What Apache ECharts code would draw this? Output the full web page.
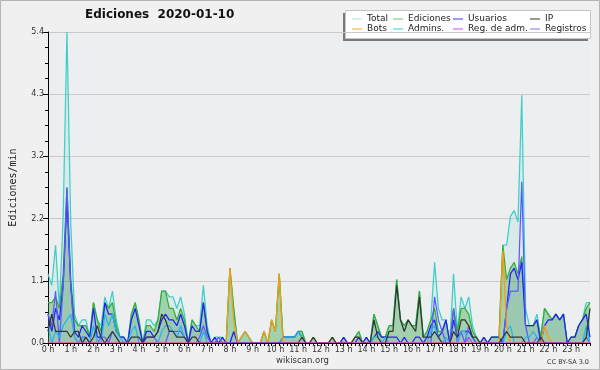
<!DOCTYPE html>
<html>
<head>
<meta charset="utf-8">
<script src="https://cdn.jsdelivr.net/npm/echarts@6/dist/echarts.min.js"></script>
<style>
  html, body { margin: 0; padding: 0; background: #f0f0f0; }
  #chart { width: 600px; height: 370px; }
</style>
</head>
<body>
<div id="chart"></div>
<script>
// Ediciones 2020-01-10 -- edits per minute, 10-minute slots (144 per day)

const hourLabels = ['0 h', '1 h', '2 h', '3 h', '4 h', '5 h', '6 h', '7 h', '8 h', '9 h', '10 h', '11 h',
  '12 h', '13 h', '14 h', '15 h', '16 h', '17 h', '18 h', '19 h', '20 h', '21 h', '22 h', '23 h'];
const slotMinutes = ['00', '10', '20', '30', '40', '50'];

// one line = two hours (12 slots)
const total = [
  1.2, 1.0, 1.7, 0.6, 2.2, 5.4, 2.1, 0.5, 0.3, 0.4, 0.4, 0.1,
  0.7, 0.4, 0.3, 0.8, 0.6, 0.9, 0.4, 0.1, 0.1, 0, 0.5, 0.7,
  0.4, 0, 0.4, 0.4, 0.3, 0.4, 0.9, 0.9, 0.8, 0.8, 0.6, 0.8,
  0.5, 0, 0.4, 0.3, 0.3, 1.0, 0.3, 0, 0.1, 0.1, 0.1, 0,
  1.3, 0.6, 0, 0.1, 0.2, 0.1, 0, 0, 0, 0.2, 0, 0.4,
  0.2, 1.2, 0.1, 0.1, 0.1, 0.1, 0.2, 0.2, 0, 0, 0.1, 0,
  0, 0, 0, 0.1, 0, 0, 0.1, 0, 0, 0.1, 0.2, 0,
  0.1, 0, 0.5, 0.3, 0.1, 0.1, 0.3, 0.3, 1.1, 0.4, 0.3, 0.4,
  0.3, 0.3, 0.9, 0.1, 0.2, 0.4, 1.4, 0.6, 0.4, 0.4, 0, 1.2,
  0.2, 0.8, 0.6, 0.8, 0.3, 0.1, 0, 0.1, 0, 0.1, 0.1, 0.1,
  1.7, 1.7, 2.2, 2.3, 2.1, 4.3, 0.6, 0.3, 0.3, 0.5, 0.1, 0.6,
  0.5, 0.4, 0.5, 0.4, 0.5, 0, 0.1, 0.1, 0.3, 0.4, 0.7, 0.7
];

const ediciones = [
  0.7, 0.7, 0.8, 0.6, 1.2, 2.7, 1.1, 0.4, 0.3, 0.3, 0.3, 0.1,
  0.7, 0.4, 0.2, 0.7, 0.6, 0.7, 0.3, 0.1, 0.1, 0, 0.5, 0.7,
  0.4, 0, 0.3, 0.3, 0.2, 0.4, 0.9, 0.9, 0.6, 0.6, 0.4, 0.6,
  0.4, 0, 0.4, 0.3, 0.2, 0.7, 0.2, 0, 0.1, 0, 0.1, 0,
  1.3, 0.6, 0, 0.1, 0.2, 0.1, 0, 0, 0, 0.2, 0, 0.4,
  0.2, 1.2, 0.1, 0.1, 0.1, 0.1, 0.2, 0.2, 0, 0, 0.1, 0,
  0, 0, 0, 0.1, 0, 0, 0.1, 0, 0, 0.1, 0.2, 0,
  0.1, 0, 0.5, 0.3, 0.1, 0.1, 0.3, 0.3, 1.1, 0.4, 0.3, 0.4,
  0.3, 0.3, 0.9, 0.1, 0.2, 0.4, 0.6, 0.2, 0.2, 0.4, 0, 0.6,
  0.2, 0.6, 0.6, 0.5, 0.2, 0.1, 0, 0.1, 0, 0.1, 0.1, 0.1,
  1.7, 1.1, 1.3, 1.4, 1.2, 1.5, 0.3, 0.3, 0.3, 0.4, 0.1, 0.6,
  0.5, 0.4, 0.5, 0.4, 0.5, 0, 0.1, 0.1, 0.3, 0.4, 0.6, 0.7
];

const usuarios = [
  0.5, 0.2, 0.6, 0.4, 1.0, 2.5, 1.0, 0.2, 0.1, 0.3, 0.2, 0.1,
  0.6, 0.1, 0.1, 0.7, 0.5, 0.5, 0.2, 0.1, 0.1, 0, 0.4, 0.6,
  0.3, 0, 0.2, 0.2, 0.1, 0.2, 0.4, 0.5, 0.4, 0.4, 0.3, 0.5,
  0.3, 0, 0.3, 0.2, 0.2, 0.7, 0.2, 0, 0.1, 0, 0.1, 0,
  0, 0.2, 0, 0, 0, 0, 0, 0, 0, 0, 0, 0,
  0, 0, 0.1, 0.1, 0.1, 0.1, 0.2, 0.1, 0, 0, 0, 0,
  0, 0, 0, 0, 0, 0, 0.1, 0, 0, 0, 0.1, 0,
  0.1, 0, 0.1, 0.2, 0.1, 0.1, 0.1, 0.1, 0.1, 0, 0.1, 0,
  0, 0.1, 0.1, 0, 0.1, 0.3, 0.4, 0.1, 0.2, 0.4, 0, 0.4,
  0.1, 0.2, 0.2, 0.2, 0.1, 0, 0, 0.1, 0, 0.1, 0.1, 0.1,
  0, 0.6, 1.2, 1.3, 1.1, 1.4, 0.3, 0.3, 0.3, 0.4, 0, 0.3,
  0.4, 0.4, 0.5, 0.4, 0.5, 0, 0.1, 0.1, 0.3, 0.4, 0.5, 0.1
];

const ip = [
  0.2, 0.5, 0.2, 0.2, 0.2, 0.2, 0.1, 0.2, 0.2, 0, 0.1, 0,
  0.1, 0.3, 0.1, 0, 0.1, 0.2, 0.1, 0, 0, 0, 0.1, 0.1,
  0.1, 0, 0.1, 0.1, 0.1, 0.2, 0.5, 0.4, 0.2, 0.2, 0.1, 0.1,
  0.1, 0, 0.1, 0.1, 0, 0, 0, 0, 0, 0, 0, 0,
  0, 0, 0, 0, 0, 0, 0, 0, 0, 0, 0, 0,
  0, 0, 0, 0, 0, 0, 0, 0.1, 0, 0, 0.1, 0,
  0, 0, 0, 0.1, 0, 0, 0, 0, 0, 0.1, 0.1, 0,
  0, 0, 0.4, 0.1, 0, 0, 0.2, 0.2, 1.0, 0.4, 0.2, 0.4,
  0.3, 0.2, 0.8, 0.1, 0.1, 0.1, 0.2, 0.1, 0, 0, 0, 0.2,
  0.1, 0.4, 0.4, 0.3, 0.1, 0.1, 0, 0, 0, 0, 0, 0,
  0.1, 0.2, 0.1, 0.1, 0.1, 0.1, 0, 0, 0, 0, 0.1, 0,
  0, 0, 0, 0, 0, 0, 0, 0, 0, 0, 0.1, 0.6
];

const bots = [
  0, 0, 0, 0, 0, 0, 0, 0, 0, 0, 0, 0,
  0, 0, 0, 0, 0, 0, 0, 0, 0, 0, 0, 0,
  0, 0, 0, 0, 0, 0, 0, 0, 0, 0, 0, 0,
  0, 0, 0, 0, 0, 0, 0, 0, 0, 0, 0, 0,
  1.3, 0.4, 0, 0.1, 0.2, 0.1, 0, 0, 0, 0.2, 0, 0.4,
  0.2, 1.2, 0, 0, 0, 0, 0, 0, 0, 0, 0, 0,
  0, 0, 0, 0, 0, 0, 0, 0, 0, 0, 0, 0,
  0, 0, 0, 0, 0, 0, 0, 0, 0, 0, 0, 0,
  0, 0, 0, 0, 0, 0, 0, 0, 0, 0, 0, 0,
  0, 0, 0, 0, 0, 0, 0, 0, 0, 0, 0, 0,
  1.6, 0.3, 0, 0, 0, 0, 0, 0, 0, 0, 0, 0.3,
  0.1, 0, 0, 0, 0, 0, 0, 0, 0, 0, 0, 0
];

const admins = [
  0.3, 0, 0.2, 0.1, 0.3, 0.4, 0.5, 0.1, 0, 0.1, 0, 0,
  0.3, 0, 0, 0.5, 0.3, 0.5, 0.2, 0.1, 0, 0, 0.2, 0.3,
  0, 0, 0, 0, 0, 0, 0.2, 0.3, 0.3, 0.2, 0.1, 0.3,
  0.1, 0, 0, 0, 0, 0.2, 0, 0, 0, 0, 0, 0,
  0, 0, 0, 0, 0, 0, 0, 0, 0, 0, 0, 0,
  0, 0, 0.1, 0.1, 0.1, 0.1, 0.2, 0.1, 0, 0, 0, 0,
  0, 0, 0, 0, 0, 0, 0, 0, 0, 0, 0, 0,
  0, 0, 0.1, 0.1, 0, 0.1, 0, 0, 0, 0, 0, 0,
  0, 0, 0, 0, 0, 0.2, 0.3, 0.1, 0, 0.1, 0, 0,
  0, 0.2, 0.2, 0, 0, 0, 0, 0, 0, 0, 0, 0,
  0, 0.2, 0.3, 0, 0, 0, 0.1, 0.1, 0.2, 0.1, 0, 0,
  0, 0, 0, 0, 0, 0, 0, 0, 0, 0, 0.3, 0
];

const regAdm = [
  0, 0, 0, 0, 0, 0, 0, 0, 0, 0, 0, 0,
  0, 0, 0, 0, 0, 0, 0, 0, 0, 0, 0, 0,
  0, 0, 0, 0, 0, 0, 0, 0, 0, 0, 0, 0,
  0, 0, 0, 0, 0, 0, 0, 0, 0, 0, 0, 0,
  0, 0, 0, 0, 0, 0, 0, 0, 0, 0, 0, 0,
  0, 0, 0, 0, 0, 0, 0, 0, 0, 0, 0, 0,
  0, 0, 0, 0, 0, 0, 0, 0, 0, 0, 0, 0,
  0, 0, 0, 0, 0, 0, 0, 0, 0, 0, 0, 0,
  0, 0, 0, 0, 0, 0, 0, 0, 0, 0, 0, 0,
  0, 0, 0, 0.1, 0, 0, 0, 0, 0, 0, 0, 0,
  0, 0, 0, 0, 0, 0, 0, 0, 0, 0, 0, 0,
  0, 0, 0, 0, 0, 0, 0, 0, 0, 0, 0, 0
];

const registros = [
  0.5, 0.3, 0.9, 0, 1.0, 2.7, 1.0, 0.1, 0, 0.1, 0.1, 0,
  0, 0, 0.1, 0.1, 0, 0.2, 0.1, 0, 0, 0, 0, 0,
  0, 0, 0.1, 0.1, 0.1, 0, 0, 0, 0.2, 0.2, 0.2, 0.2,
  0.1, 0, 0, 0, 0.1, 0.3, 0.1, 0, 0, 0.1, 0, 0,
  0, 0, 0, 0, 0, 0, 0, 0, 0, 0, 0, 0,
  0, 0, 0, 0, 0, 0, 0, 0, 0, 0, 0, 0,
  0, 0, 0, 0, 0, 0, 0, 0, 0, 0, 0, 0,
  0, 0, 0, 0, 0, 0, 0, 0, 0, 0, 0, 0,
  0, 0, 0, 0, 0, 0, 0.8, 0.4, 0.2, 0, 0, 0.6,
  0, 0.2, 0, 0.3, 0.1, 0, 0, 0, 0, 0, 0, 0,
  0, 0.6, 0.9, 0.9, 0.9, 2.8, 0.3, 0, 0, 0.1, 0, 0,
  0, 0, 0, 0, 0, 0, 0, 0, 0, 0, 0.1, 0
];

// ----- slots (category axis) -----
const slots = [];
hourLabels.forEach((h, hi) => slotMinutes.forEach(m => slots.push(hi + ':' + m)));

const FONT = 'DejaVu Sans';
const chart = echarts.init(document.getElementById('chart'));

function lineSeries(name, data, color, extra) {
  return Object.assign({
    name,
    type: 'line',
    data,
    showSymbol: false,
    symbol: 'none',
    animation: false,
    lineStyle: { color, width: 1.25 },
    itemStyle: { color }
  }, extra || {});
}

// legend layout: 4 columns x 2 rows
const legendItems = [
  { name: 'Total', color: '#a2e6e4', left: 352, top: 14 },
  { name: 'Bots', color: '#ffa424', left: 352, top: 24 },
  { name: 'Ediciones', color: '#66c466', left: 393, top: 14 },
  { name: 'Admins.', color: '#35cfe2', left: 393, top: 24 },
  { name: 'Usuarios', color: '#3636ff', left: 453, top: 14 },
  { name: 'Reg. de adm.', color: '#e23ef0', left: 453, top: 24 },
  { name: 'IP', color: '#333333', left: 530, top: 14 },
  { name: 'Registros', color: '#7474ff', left: 530, top: 24 }
];

chart.setOption({
  backgroundColor: '#f0f0f0',
  animation: false,
  title: {
    text: 'Ediciones  2020-01-10',
    left: 85,
    top: 9,
    padding: 0,
    textStyle: { fontFamily: FONT, fontSize: 12, fontWeight: 'bold', color: '#111' }
  },
  legend: legendItems.map(it => ({
    left: it.left,
    top: it.top,
    padding: 0,
    icon: 'rect',
    itemWidth: 10,
    itemHeight: 1,
    selectedMode: false,
    data: [{ name: it.name, itemStyle: { color: it.color } }],
    textStyle: { fontFamily: FONT, fontSize: 9, color: '#222', lineHeight: 10 }
  })),
  graphic: [
    { type: 'rect', silent: true, z: -1, shape: { x: 0.5, y: 0.5, width: 599, height: 369 },
      style: { fill: 'none', stroke: '#b4b4b4', lineWidth: 1 } },
    { type: 'rect', silent: true, z: 0, shape: { x: 343, y: 13, width: 245, height: 28 },
      style: { fill: '#7a7a7a' } },
    { type: 'rect', silent: true, z: 0, shape: { x: 345.5, y: 10.5, width: 245, height: 28 },
      style: { fill: '#ffffff', stroke: '#c4c4c4', lineWidth: 1 } },
    { type: 'text', silent: true, left: 276, top: 356,
      style: { text: 'wikiscan.org', font: '8.5px "DejaVu Sans"', fill: '#333' } },
    { type: 'text', silent: true, right: 11, top: 359,
      style: { text: 'CC BY-SA 3.0', font: '6.5px "DejaVu Sans"', fill: '#333' } }
  ],
  grid: {
    left: 46, right: 10, top: 32, bottom: 27,
    show: true, backgroundColor: '#eceef0', borderWidth: 0
  },
  xAxis: {
    type: 'category',
    data: slots,
    boundaryGap: false,
    z: 10,
    axisLine: { lineStyle: { color: '#000', width: 1 } },
    axisTick: { show: true, interval: 0, length: 3, lineStyle: { color: '#000' } },
    axisLabel: {
      interval: 5,
      margin: 3,
      fontFamily: FONT,
      fontSize: 8,
      color: '#333',
      formatter: (v, idx) => hourLabels[Math.floor(idx / 6)]
    },
    splitLine: { show: false }
  },
  yAxis: {
    type: 'value',
    min: 0,
    max: 5.4,
    interval: 1.08,
    name: 'Ediciones/min',
    nameLocation: 'middle',
    nameGap: 30,
    nameTextStyle: { fontFamily: 'DejaVu Sans Mono', fontSize: 10, color: '#222' },
    axisLine: { show: true, lineStyle: { color: '#000', width: 1 } },
    axisTick: { show: true, length: 5, lineStyle: { color: '#000' } },
    minorTick: { show: true, splitNumber: 4, length: 3, lineStyle: { color: '#000' } },
    axisLabel: {
      margin: 4,
      fontFamily: FONT,
      fontSize: 8,
      color: '#333',
      formatter: v => v.toFixed(1)
    },
    splitLine: { lineStyle: { color: '#c9c9c9', width: 1 } }
  },
  series: [
    lineSeries('Total', total, '#3fcfc7', { areaStyle: { color: 'rgba(64,208,200,0.15)' } }),
    lineSeries('Ediciones', ediciones, '#37ad37', { areaStyle: { color: 'rgba(44,160,44,0.46)' } }),
    lineSeries('Usuarios', usuarios, '#2020ff', { areaStyle: { color: 'rgba(40,40,255,0.08)' } }),
    lineSeries('Registros', registros, '#5a5aff'),
    lineSeries('Admins.', admins, '#25b6ea'),
    lineSeries('Bots', bots, '#ff9a10'),
    lineSeries('IP', ip, '#333333'),
    lineSeries('Reg. de adm.', regAdm, '#dd33ee')
  ]
});

window.addEventListener('resize', () => chart.resize());
</script>
</body>
</html>
